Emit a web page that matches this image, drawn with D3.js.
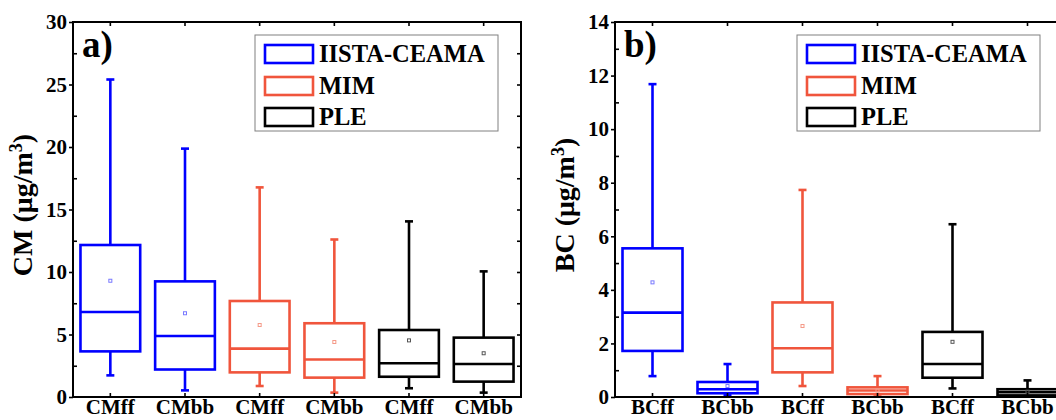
<!DOCTYPE html>
<html><head><meta charset="utf-8">
<script src="https://cdn.jsdelivr.net/npm/d3@7"></script>
<style>
body{margin:0;background:#fff}
svg{display:block}
svg text{font-family:"Liberation Serif","Times New Roman",serif !important;font-weight:bold;fill:#000}
</style></head><body><svg id="c" width="1056" height="420"></svg>
<script>
const seriesNames = ["IISTA-CEAMA","MIM","PLE"];
const seriesColors = ["#0000ff","#f0553c","#000000"];
const meanColors = ["#7a7aff","#f59a88","#555555"];
const seriesOfBox = [0,0,1,1,2,2];

const catsA = ["CMff","CMbb","CMff","CMbb","CMff","CMbb"];
const lowA  = [1.73,0.53,0.88,0.35,0.70,0.35];
const q1A   = [3.65,2.20,1.97,1.55,1.62,1.23];
const medA  = [6.80,4.88,3.87,3.00,2.70,2.64];
const q3A   = [12.16,9.25,7.68,5.90,5.36,4.75];
const highA = [25.4,19.87,16.77,12.6,14.05,10.05];
const meanA = [9.3,6.7,5.76,4.4,4.53,3.5];
const ticksA = [0,5,10,15,20,25,30];
const minorA = [2.5,7.5,12.5,17.5,22.5,27.5];

const catsB = ["BCff","BCbb","BCff","BCbb","BCff","BCbb"];
const lowB  = [0.78,0.06,0.41,0.02,0.32,0.02];
const q1B   = [1.72,0.14,0.92,0.11,0.72,0.06];
const medB  = [3.15,0.29,1.82,0.24,1.23,0.18];
const q3B   = [5.55,0.56,3.53,0.36,2.43,0.29];
const highB = [11.68,1.23,7.73,0.78,6.45,0.62];
const meanB = [4.28,0.41,2.65,0.24,2.06,0.20];
const ticksB = [0,2,4,6,8,10,12,14];
const minorB = [1,3,5,7,9,11,13];

const svg = d3.select("#c");

function panel(x0, x1, yMax, cats, low, q1, med, q3, high, mean, ticks, minor, yTitle, letter){
  const top = 22, bottom = 397;
  const g = svg.append("g");
  const x = d3.scaleBand().domain(d3.range(cats.length)).range([x0, x1]).paddingInner(0.2).paddingOuter(0.1);
  const y = d3.scaleLinear().domain([0, yMax]).range([bottom, top]);
  const bw = x.bandwidth();
  const cx = i => x(i) + bw/2;

  const boxes = g.append("g").selectAll("g").data(cats.map((c,i)=>i)).join("g");
  boxes.each(function(i){
    const b = d3.select(this);
    const col = seriesColors[seriesOfBox[i]];
    const sw = 2.6;
    b.append("line").attr("x1",cx(i)).attr("x2",cx(i)).attr("y1",y(high[i])).attr("y2",y(q3[i])).attr("stroke",col).attr("stroke-width",sw);
    b.append("line").attr("x1",cx(i)).attr("x2",cx(i)).attr("y1",y(q1[i])).attr("y2",y(low[i])).attr("stroke",col).attr("stroke-width",sw);
    b.append("line").attr("x1",cx(i)-4).attr("x2",cx(i)+4).attr("y1",y(high[i])).attr("y2",y(high[i])).attr("stroke",col).attr("stroke-width",sw);
    b.append("line").attr("x1",cx(i)-4).attr("x2",cx(i)+4).attr("y1",y(low[i])).attr("y2",y(low[i])).attr("stroke",col).attr("stroke-width",sw);
    b.append("rect").attr("x",x(i)).attr("width",bw).attr("y",y(q3[i])).attr("height",y(q1[i])-y(q3[i])).attr("fill","none").attr("stroke",col).attr("stroke-width",sw);
    b.append("line").attr("x1",x(i)).attr("x2",x(i)+bw).attr("y1",y(med[i])).attr("y2",y(med[i])).attr("stroke",col).attr("stroke-width",sw);
    b.append("rect").attr("x",cx(i)-1.5).attr("y",y(mean[i])-1.5).attr("width",3).attr("height",3).attr("fill","none").attr("stroke",meanColors[seriesOfBox[i]]).attr("stroke-width",1);
  });

  g.append("rect").attr("x",x0).attr("y",top).attr("width",x1-x0).attr("height",bottom-top).attr("fill","none").attr("stroke","#000").attr("stroke-width",2);

  const styleAxis = sel => { sel.attr("font-family",null).attr("font-size",null); sel.select(".domain").remove(); sel.selectAll("line").attr("stroke-width",1.6); };

  g.append("g").attr("transform",`translate(0,${bottom})`)
    .call(d3.axisBottom(x).tickSize(-4).tickPadding(2).tickFormat(i=>cats[i]))
    .call(styleAxis)
    .selectAll("text").style("font-size","21px");
  g.append("g").attr("transform",`translate(0,${top})`)
    .call(d3.axisTop(x).tickSize(-4).tickFormat(""))
    .call(styleAxis);
  g.append("g").attr("transform",`translate(${x0},0)`)
    .call(d3.axisLeft(y).tickValues(ticks).tickSize(4).tickPadding(2).tickFormat(d3.format("d")))
    .call(styleAxis)
    .selectAll("text").style("font-size","21px");
  g.append("g").attr("transform",`translate(${x0},0)`)
    .call(d3.axisLeft(y).tickValues(minor).tickSize(-4).tickFormat(""))
    .call(styleAxis);
  g.append("g").attr("transform",`translate(${x1},0)`)
    .call(d3.axisRight(y).tickValues(ticks.concat(minor).filter(v=>v>0&&v<yMax)).tickSize(-4).tickFormat(""))
    .call(styleAxis);

  g.append("text").attr("x",x0+9).attr("y",57).style("font-size","37px").text(letter);

  const t = g.append("text").attr("transform",`translate(${x0-41},205) rotate(-90)`).attr("text-anchor","middle").style("font-size","28px");
  t.append("tspan").text(yTitle + " (μg/m");
  t.append("tspan").style("font-size","18px").attr("dy",-10).text("3");
  t.append("tspan").attr("dy",10).text(")");

  const lx = x0 + 182, ly = 35;
  g.append("rect").attr("x",lx).attr("y",ly).attr("width",243).attr("height",96).attr("fill","#fff").attr("stroke","#808080").attr("stroke-width",1);
  const rowsY = [54,86,117];
  seriesNames.forEach((n,k)=>{
    g.append("rect").attr("x",lx+10).attr("y",rowsY[k]-9).attr("width",48).attr("height",18).attr("fill","none").attr("stroke",seriesColors[k]).attr("stroke-width",2.6);
    g.append("text").attr("x",lx+64).attr("y",rowsY[k]+8).style("font-size","24.5px").text(n);
  });
}

panel(73, 521, 30, catsA, lowA, q1A, medA, q3A, highA, meanA, ticksA, minorA, "CM", "a)");
panel(615, 1065, 14, catsB, lowB, q1B, medB, q3B, highB, meanB, ticksB, minorB, "BC", "b)");
</script></body></html>
